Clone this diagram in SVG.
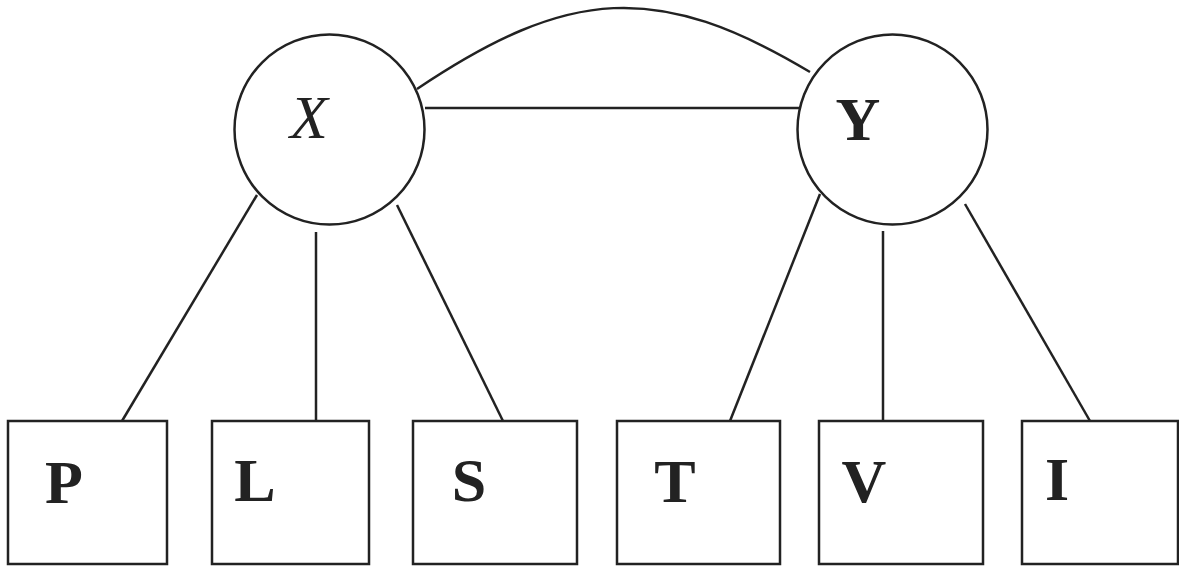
<svg xmlns="http://www.w3.org/2000/svg" width="1179" height="566" viewBox="0 0 1179 566">
<style>
.shape{fill:#fff;stroke:#222;stroke-width:2.5}
.conn{fill:none;stroke:#222;stroke-width:2.5}
.lbl{font-family:"Liberation Serif","Times New Roman",serif;font-size:62px;font-weight:bold;fill:#222;text-anchor:middle}
.it{font-weight:normal;font-style:italic}
</style>
<rect width="1179" height="566" fill="#fff"/>
<g id="connectors">
<path class="conn" d="M417,89 C569,-13 658,-19 810,72"/>
<line class="conn" x1="425" y1="108" x2="802" y2="108"/>
<line class="conn" x1="257" y1="195" x2="122" y2="421"/>
<line class="conn" x1="316" y1="232" x2="316" y2="421"/>
<line class="conn" x1="397" y1="205" x2="503" y2="421"/>
<line class="conn" x1="820" y1="194" x2="730" y2="421"/>
<line class="conn" x1="883" y1="231" x2="883" y2="421"/>
<line class="conn" x1="965" y1="204" x2="1090" y2="421"/>
</g>
<g id="node-X"><circle class="shape" cx="329.5" cy="129.5" r="95"/><text class="lbl it" x="309" y="138">X</text></g>
<g id="node-Y"><circle class="shape" cx="892.5" cy="129.5" r="95"/><text class="lbl" x="858" y="140">Y</text></g>
<g id="node-P"><rect class="shape" x="8" y="421" width="159" height="143"/><text class="lbl" x="64" y="503">P</text></g>
<g id="node-L"><rect class="shape" x="212" y="421" width="157" height="143"/><text class="lbl" x="255" y="501">L</text></g>
<g id="node-S"><rect class="shape" x="413" y="421" width="164" height="143"/><text class="lbl" x="469" y="501">S</text></g>
<g id="node-T"><rect class="shape" x="617" y="421" width="163" height="143"/><text class="lbl" x="675" y="502">T</text></g>
<g id="node-V"><rect class="shape" x="819" y="421" width="164" height="143"/><text class="lbl" x="864" y="502">V</text></g>
<g id="node-I"><rect class="shape" x="1022" y="421" width="156" height="143"/><text class="lbl" x="1057" y="500">I</text></g>
</svg>
